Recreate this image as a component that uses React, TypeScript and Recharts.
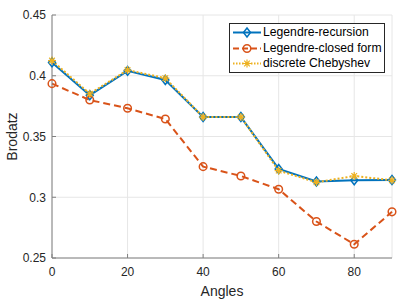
import { LineChart, Line, XAxis, YAxis, CartesianGrid, Label } from 'recharts';

const angles = [0, 10, 20, 30, 40, 50, 60, 70, 80, 90];
const recursion = [0.411, 0.384, 0.404, 0.3965, 0.366, 0.366, 0.3233, 0.313, 0.314, 0.3142];
const closedForm = [0.3935, 0.38, 0.3732, 0.3644, 0.3252, 0.3175, 0.3066, 0.28, 0.2613, 0.288];
const chebyshev = [0.4125, 0.3852, 0.4047, 0.398, 0.366, 0.366, 0.3219, 0.3123, 0.3175, 0.314];

const xTicks = [0, 20, 40, 60, 80];
const yTicks = [0.25, 0.3, 0.35, 0.4, 0.45];

const BLUE = '#0072BD';
const RED = '#D95319';
const YELLOW = '#EDB120';
const FONT = '"Liberation Sans", Arial, sans-serif';

const data = angles.map((a, i) => ({
  angle: a,
  recursion: recursion[i],
  closed: closedForm[i],
  cheb: chebyshev[i],
}));

function Diamond({ cx, cy }: any) {
  if (cx == null || cy == null) return null;
  return (
    <path
      d={`M${cx},${cy - 4.5}L${cx + 3.5},${cy}L${cx},${cy + 4.5}L${cx - 3.5},${cy}Z`}
      fill="none"
      stroke={BLUE}
      strokeWidth={1.5}
    />
  );
}

function Circle({ cx, cy }: any) {
  if (cx == null || cy == null) return null;
  return <circle cx={cx} cy={cy} r={3.8} fill="none" stroke={RED} strokeWidth={1.5} />;
}

function Star({ cx, cy }: any) {
  if (cx == null || cy == null) return null;
  const s = 4;
  const d = 2.8;
  return (
    <path
      d={`M${cx - s},${cy}L${cx + s},${cy}M${cx},${cy - s}L${cx},${cy + s}M${cx - d},${cy - d}L${cx + d},${cy + d}M${cx - d},${cy + d}L${cx + d},${cy - d}`}
      stroke={YELLOW}
      strokeWidth={1.2}
    />
  );
}

const legendRows = [
  { label: 'Legendre-recursion', color: BLUE, dash: undefined, marker: Diamond },
  { label: 'Legendre-closed form', color: RED, dash: '6 3', marker: Circle },
  { label: 'discrete Chebyshev', color: YELLOW, dash: '1.5 1.5', marker: Star },
];

function LegendBox() {
  return (
    <div
      style={{
        position: 'absolute',
        left: 229,
        top: 23,
        width: 152,
        height: 47,
        border: '1px solid #262626',
        background: '#fff',
        padding: '1px 0 0 2px',
        fontFamily: FONT,
        fontSize: 12.2,
        color: '#000',
        lineHeight: '15.5px',
        whiteSpace: 'nowrap',
      }}
    >
      {legendRows.map((r) => {
        const M = r.marker;
        return (
          <div key={r.label} style={{ display: 'flex', alignItems: 'center', height: 15.5 }}>
            <svg width={30} height={15} style={{ marginRight: 1 }}>
              <line x1={1} y1={7.5} x2={29} y2={7.5} stroke={r.color} strokeWidth={2} strokeDasharray={r.dash} />
              <M cx={15} cy={7.5} />
            </svg>
            <span>{r.label}</span>
          </div>
        );
      })}
    </div>
  );
}

export default function App() {
  return (
    <div style={{ position: 'absolute', left: 0, top: 0, width: 399, height: 299, background: '#fff' }}>
      <LineChart width={399} height={299} data={data} margin={{ top: 15, right: 7, bottom: 0, left: 0 }}>
        <CartesianGrid stroke="#e6e6e6" strokeWidth={1} />
        <XAxis
          dataKey="angle"
          type="number"
          domain={[0, 90]}
          ticks={xTicks}
          height={41}
          axisLine={{ stroke: '#808080' }}
          tickLine={{ stroke: '#808080' }}
          tickSize={-4}
          tickMargin={13}
          tick={{ fill: '#262626', fontSize: 12, fontFamily: FONT }}
        >
          <Label value="Angles" position="insideBottom" offset={3} style={{ fill: '#262626', fontSize: 14, fontFamily: FONT }} />
        </XAxis>
        <XAxis xAxisId="top" orientation="top" dataKey="angle" type="number" domain={[0, 90]} ticks={xTicks} height={0} tick={false} axisLine={{ stroke: '#808080' }} tickLine={false} />
        <YAxis
          type="number"
          domain={[0.25, 0.45]}
          ticks={yTicks}
          width={52}
          axisLine={{ stroke: '#808080' }}
          tickLine={{ stroke: '#808080' }}
          tickSize={-4}
          tickMargin={10}
          tickFormatter={(v: number) => String(Number(v.toFixed(2)))}
          tick={{ fill: '#262626', fontSize: 12, fontFamily: FONT }}
        >
          <Label value="Brodatz" angle={-90} position="insideLeft" offset={12} style={{ fill: '#262626', fontSize: 14, fontFamily: FONT, textAnchor: 'middle' }} />
        </YAxis>
        <YAxis yAxisId="right" orientation="right" domain={[0.25, 0.45]} width={0} tick={false} axisLine={{ stroke: '#808080' }} tickLine={false} />
        <Line dataKey="recursion" stroke={BLUE} strokeWidth={2} dot={<Diamond />} activeDot={false} isAnimationActive={false} />
        <Line dataKey="closed" stroke={RED} strokeWidth={2} strokeDasharray="7 4" dot={<Circle />} activeDot={false} isAnimationActive={false} />
        <Line dataKey="cheb" stroke={YELLOW} strokeWidth={2} strokeDasharray="2 2" dot={<Star />} activeDot={false} isAnimationActive={false} />
      </LineChart>
      <LegendBox />
    </div>
  );
}
